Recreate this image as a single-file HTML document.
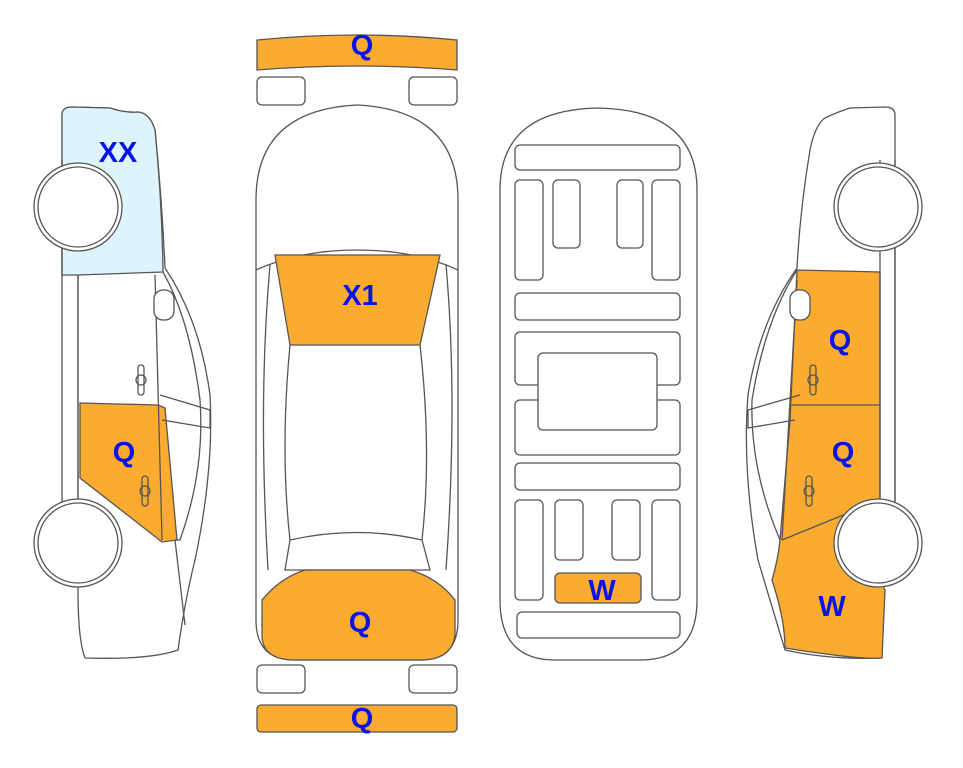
<!DOCTYPE html>
<html><head><style>
html,body{margin:0;padding:0;background:#fff;width:963px;height:768px;overflow:hidden}
svg{display:block}
text{font-family:"Liberation Sans",sans-serif;font-weight:bold;fill:#0a14e6;font-size:29px;text-anchor:middle}
</style></head><body>
<svg width="963" height="768" viewBox="0 0 963 768" xmlns="http://www.w3.org/2000/svg">
<g stroke="#555" stroke-width="1.3" fill="none">
<!-- LEFT CAR -->
<path d="M62,115 Q62,107 72,107 L110,108 Q125,113 138,112 Q150,113 155,130 Q162,200 165,268 Q200,320 210,395 Q214,470 195,560 Q185,600 178,650 Q150,660 85,658 Q78,640 78,590 L78,270 L62,270 Z" fill="#fff"/>
<path d="M62,115 Q62,107 72,107 L110,108 Q125,113 138,112 Q150,113 155,130 Q162,200 163,272 L78,275 L62,275 Z" fill="#def4fb"/>
<path d="M80,403 L158,405 L165,408 L177,540 L162,542 L80,478 Z" fill="#fbab2f"/>
<line x1="62" y1="160" x2="62" y2="505"/><line x1="78" y1="275" x2="78" y2="505"/>
<line x1="155" y1="275" x2="162" y2="540"/>
<path d="M163,272 Q190,320 200,400 Q205,470 180,540 L175,540"/>
<path d="M160,395 L210,410 L210,428 L162,420"/>
<path d="M175,540 Q182,600 185,625"/>
<rect x="154" y="290" width="20" height="30" rx="9" fill="#fff"/>
<rect x="138" y="365" width="6" height="30" rx="3"/><circle cx="141" cy="380" r="5"/>
<rect x="142" y="476" width="6" height="30" rx="3"/><circle cx="145" cy="491" r="5"/>
<circle cx="78" cy="207" r="44" fill="#fff"/><circle cx="78" cy="207" r="40" fill="#fff"/>
<circle cx="78" cy="543" r="44" fill="#fff"/><circle cx="78" cy="543" r="40" fill="#fff"/>

<!-- RIGHT CAR -->
<path d="M895,115 Q895,107 885,107 L850,108 Q835,113 825,118 Q815,125 810,150 Q800,210 797,268 Q760,320 748,395 Q742,470 758,560 Q770,600 785,650 Q830,660 880,658 L880,580 L895,505 L895,160 Z" fill="#fff"/>
<path d="M797,270 L880,272 L880,500 L850,520 L880,580 L885,590 L882,658 Q860,660 785,648 Q785,620 772,580 Q778,560 780,540 L790,420 Z" fill="#fbab2f"/>
<path d="M880,160 L880,505 M895,160 L895,505"/>
<path d="M797,270 Q765,320 752,400 Q750,470 780,540"/>
<path d="M800,395 L748,410 L748,428 L795,420"/>
<line x1="797" y1="280" x2="782" y2="540"/>
<line x1="790" y1="405" x2="880" y2="405"/>
<path d="M782,540 L880,500"/>
<rect x="790" y="290" width="20" height="30" rx="9" fill="#fff"/>
<rect x="810" y="365" width="6" height="30" rx="3"/><circle cx="813" cy="380" r="5"/>
<rect x="806" y="476" width="6" height="30" rx="3"/><circle cx="809" cy="491" r="5"/>
<circle cx="878" cy="207" r="44" fill="#fff"/><circle cx="878" cy="207" r="40" fill="#fff"/>
<circle cx="878" cy="543" r="44" fill="#fff"/><circle cx="878" cy="543" r="40" fill="#fff"/>

<!-- TOP VIEW CAR -->
<path d="M257,40 Q357,30 457,40 L457,70 Q357,62 257,70 Z" fill="#fbab2f"/>
<rect x="257" y="77" width="48" height="28" rx="5"/><rect x="409" y="77" width="48" height="28" rx="5"/>
<path d="M256,200 Q256,110 357,105 Q458,110 458,200 L458,620 Q458,660 420,660 L295,660 Q256,660 256,620 Z" fill="#fff"/>
<path d="M256,270 Q300,250 357,250 Q415,250 458,270"/>
<path d="M275,255 L440,255 L420,345 L290,345 Z" fill="#fbab2f"/>
<path d="M290,345 Q280,450 290,540 M420,345 Q432,450 422,540"/>
<path d="M270,265 Q258,400 268,570 M446,265 Q458,400 446,570"/>
<path d="M290,540 Q357,525 422,540 L430,570 L285,570 Z"/>
<path d="M262,600 Q280,578 305,570 L410,570 Q438,578 455,600 L455,635 Q452,660 420,660 L295,660 Q262,660 262,635 Z" fill="#fbab2f"/>
<rect x="257" y="665" width="48" height="28" rx="5"/><rect x="409" y="665" width="48" height="28" rx="5"/>
<rect x="257" y="705" width="200" height="27" rx="4" fill="#fbab2f"/>

<!-- UNDERSIDE -->
<path d="M500,190 Q500,110 598,108 Q697,110 697,190 L697,600 Q697,660 640,660 L555,660 Q500,660 500,600 Z" fill="#fff"/>
<rect x="515" y="145" width="165" height="25" rx="5"/>
<rect x="515" y="180" width="28" height="100" rx="5"/><rect x="553" y="180" width="27" height="68" rx="5"/>
<rect x="617" y="180" width="26" height="68" rx="5"/><rect x="652" y="180" width="28" height="100" rx="5"/>
<rect x="515" y="293" width="165" height="27" rx="5"/>
<rect x="515" y="332" width="165" height="53" rx="5"/>
<rect x="515" y="400" width="165" height="55" rx="5"/>
<rect x="538" y="353" width="119" height="77" rx="5" fill="#fff"/>
<rect x="515" y="463" width="165" height="27" rx="5"/>
<rect x="515" y="500" width="28" height="100" rx="5"/><rect x="555" y="500" width="28" height="60" rx="5"/>
<rect x="612" y="500" width="28" height="60" rx="5"/><rect x="652" y="500" width="28" height="100" rx="5"/>
<rect x="555" y="573" width="86" height="30" rx="5" fill="#fbab2f"/>
<rect x="517" y="612" width="163" height="26" rx="5"/>
</g>
<text x="118" y="162">XX</text>
<text x="124" y="462">Q</text>
<text x="362" y="55">Q</text>
<text x="360" y="305">X1</text>
<text x="360" y="632">Q</text>
<text x="362" y="728">Q</text>
<text x="602" y="600">W</text>
<text x="840" y="350">Q</text>
<text x="843" y="462">Q</text>
<text x="832" y="616">W</text>
</svg>
</body></html>
